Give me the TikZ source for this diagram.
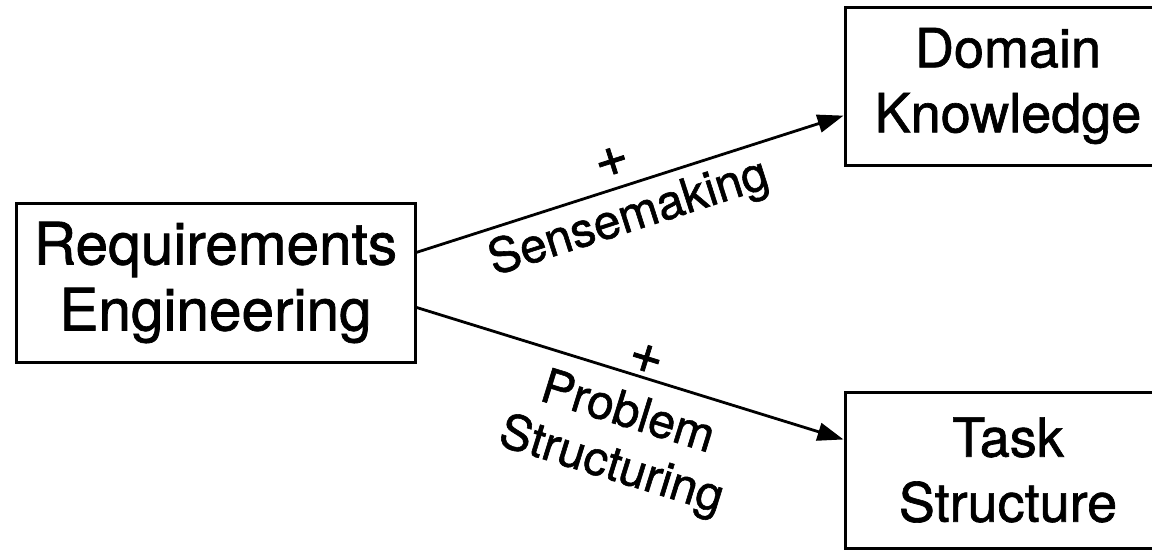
\documentclass[tikz,border=0pt]{standalone}
\usepackage{fontspec}
\setmainfont{TeX Gyre Heros}[FakeBold=1.2]
\usetikzlibrary{arrows.meta,calc}

\tikzset{
  box/.style={draw=black, line width=3pt, align=center, inner sep=0pt},
  bigtext/.style={font=\fontsize{58.5}{66}\selectfont},
  sidetext/.style={font=\fontsize{54}{65}\selectfont},
  lab/.style={font=\fontsize{48}{55}\selectfont, align=center, inner sep=0pt, anchor=center},
  plus/.style={lab, font=\fontsize{58}{58}\selectfont},
  link/.style={line width=2.8pt, -{Triangle[length=26pt,width=18pt]}}
}

\begin{document}
\begin{tikzpicture}[x=1pt,y=-1pt]
  \useasboundingbox (0,0) rectangle (1152,552);
  \fill[white] (0,0) rectangle (1152,552);
  \clip (0,0) rectangle (1152,552);

  % boxes
  \node[box, bigtext, minimum width=399pt, minimum height=159pt] (req) at (215.5,282.5)
    {Requirements\\Engineering};
  \node[box, sidetext, minimum width=326pt, minimum height=158pt] (dom) at (1008,86)
    {Domain\\Knowledge};
  \node[box, sidetext, minimum width=326pt, minimum height=156pt] (task) at (1008,470)
    {Task\\Structure};

  % attachment points on the box sides
  \coordinate (reqA) at ($(req.north east)!0.314!(req.south east)$);
  \coordinate (reqB) at ($(req.north east)!0.654!(req.south east)$);
  \coordinate (domIn) at ($(dom.north west)!0.684!(dom.south west)$);
  \coordinate (taskIn) at ($(task.north west)!0.308!(task.south west)$);

  % connectors
  \draw[link] (reqA) -- (domIn);
  \draw[link] (reqB) -- (taskIn);

  % connector labels
  \node[plus, rotate=17.8] (plusA) at (612,162) {+};
  \node[lab, rotate=17.8] (senseLab) at (629,219) {Sensemaking};
  \node[plus, rotate=-17.2] (plusB) at (646,359) {+};
  \node[lab, rotate=-17.2] (probLab) at (619,441) {Problem\\Structuring};
\end{tikzpicture}
\end{document}
